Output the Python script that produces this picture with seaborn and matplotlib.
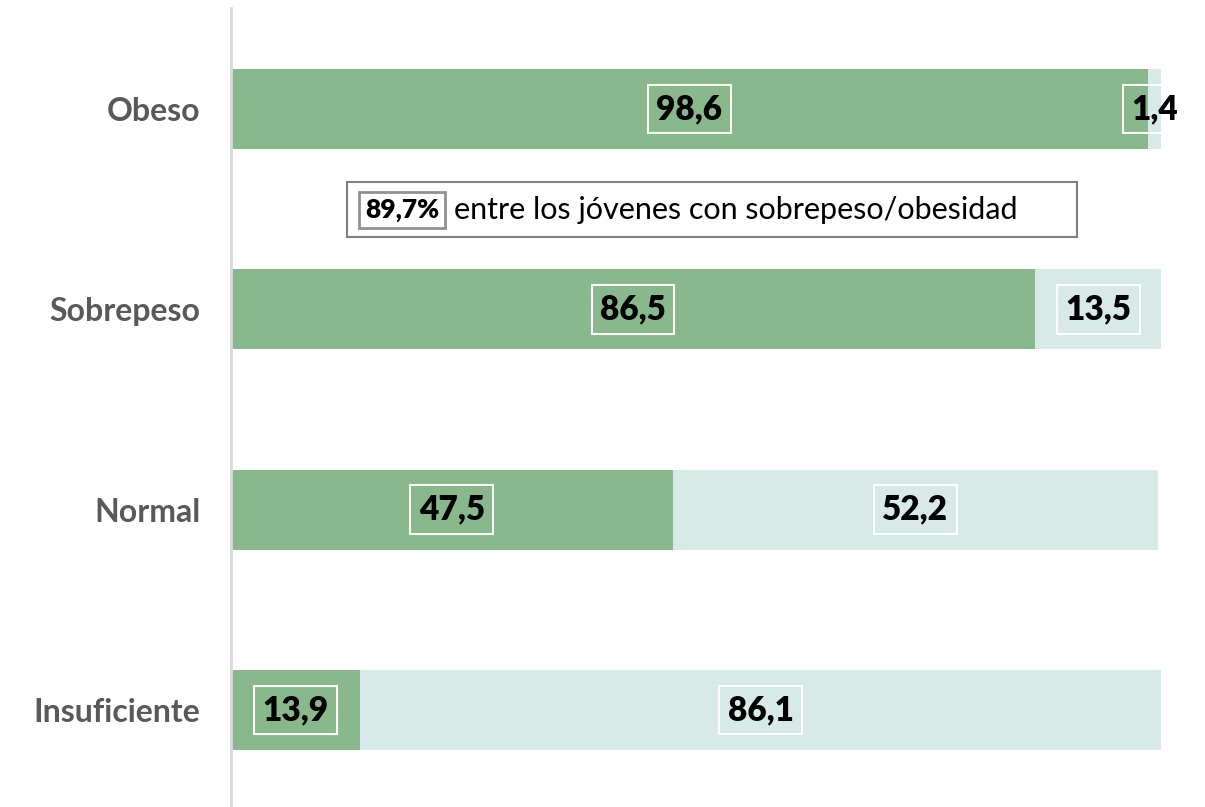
import matplotlib
matplotlib.use("Agg")
import matplotlib.pyplot as plt
import seaborn as sns
import pandas as pd
from matplotlib.patches import Rectangle

categories = ["Obeso", "Sobrepeso", "Normal", "Insuficiente"]
dark_vals = [98.6, 86.5, 47.5, 13.9]
light_vals = [1.4, 13.5, 52.2, 86.1]
dark_labels = ["98,6", "86,5", "47,5", "13,9"]
light_labels = ["1,4", "13,5", "52,2", "86,1"]
note_bold = "89,7%"
note_text = "entre los jóvenes con sobrepeso/obesidad"

DARK = "#88b88b"
LIGHT = "#d7eae7"

sns.set_style("white")
plt.rcParams["font.family"] = ["Lato", "DejaVu Sans"]

df = pd.DataFrame({"cat": categories, "dark": dark_vals, "light": light_vals})
df["total"] = df["dark"] + df["light"]

fig = plt.figure(figsize=(12.05, 8.07), dpi=100)
ax = fig.add_axes([231 / 1205, 0, (1161 - 231) / 1205, 1 - 8 / 807])

sns.barplot(data=df, y="cat", x="total", color=LIGHT, orient="h", width=0.4,
            ax=ax, saturation=1, edgecolor="none", linewidth=0)
sns.barplot(data=df, y="cat", x="dark", color=DARK, orient="h", width=0.4,
            ax=ax, saturation=1, edgecolor="none", linewidth=0)

ax.set_xlim(0, 100)
ax.set_ylim(3.485, -0.505)
ax.set_xlabel("")
ax.set_ylabel("")
ax.set_xticks([])
for s in ["top", "right", "bottom"]:
    ax.spines[s].set_visible(False)
ax.spines["left"].set_color("#d9d9d9")
ax.spines["left"].set_linewidth(2)
ax.tick_params(axis="y", length=0, pad=22)
for lab in ax.get_yticklabels():
    lab.set_fontsize(23)
    lab.set_fontweight("bold")
    lab.set_color("#595959")

FS = 24
W = "heavy"
box = dict(boxstyle="square,pad=0.25", facecolor="none", edgecolor="white", linewidth=1.5)
for i in range(len(categories)):
    d = dark_vals[i]
    l = light_vals[i]
    ax.text(d / 2, i, dark_labels[i], ha="center", va="center", fontsize=FS,
            fontweight=W, color="black", bbox=box)
    cx = d + l / 2
    if l < 5:
        ax.text(cx, i, light_labels[i], ha="center", va="center", fontsize=FS,
                fontweight=W, color="none", bbox=box, clip_on=True)
        ax.text(cx, i, light_labels[i], ha="center", va="center", fontsize=FS,
                fontweight=W, color="black", clip_on=False)
    else:
        ax.text(cx, i, light_labels[i], ha="center", va="center", fontsize=FS,
                fontweight=W, color="black", bbox=box)

ax.add_patch(Rectangle((12.5, 0.365), 91 - 12.5, 0.64 - 0.365, facecolor="white",
                       edgecolor="#808080", linewidth=1.5, zorder=3))
ax.text(18.4, 0.505, note_bold, ha="center", va="center", fontsize=19, fontweight=W,
        color="black", zorder=4,
        bbox=dict(boxstyle="square,pad=0.22", facecolor="white", edgecolor="#909090", linewidth=2))
ax.text(24.0, 0.505, note_text, ha="left", va="center", fontsize=22, color="black", zorder=4)

fig.savefig("out.png", dpi=100)
